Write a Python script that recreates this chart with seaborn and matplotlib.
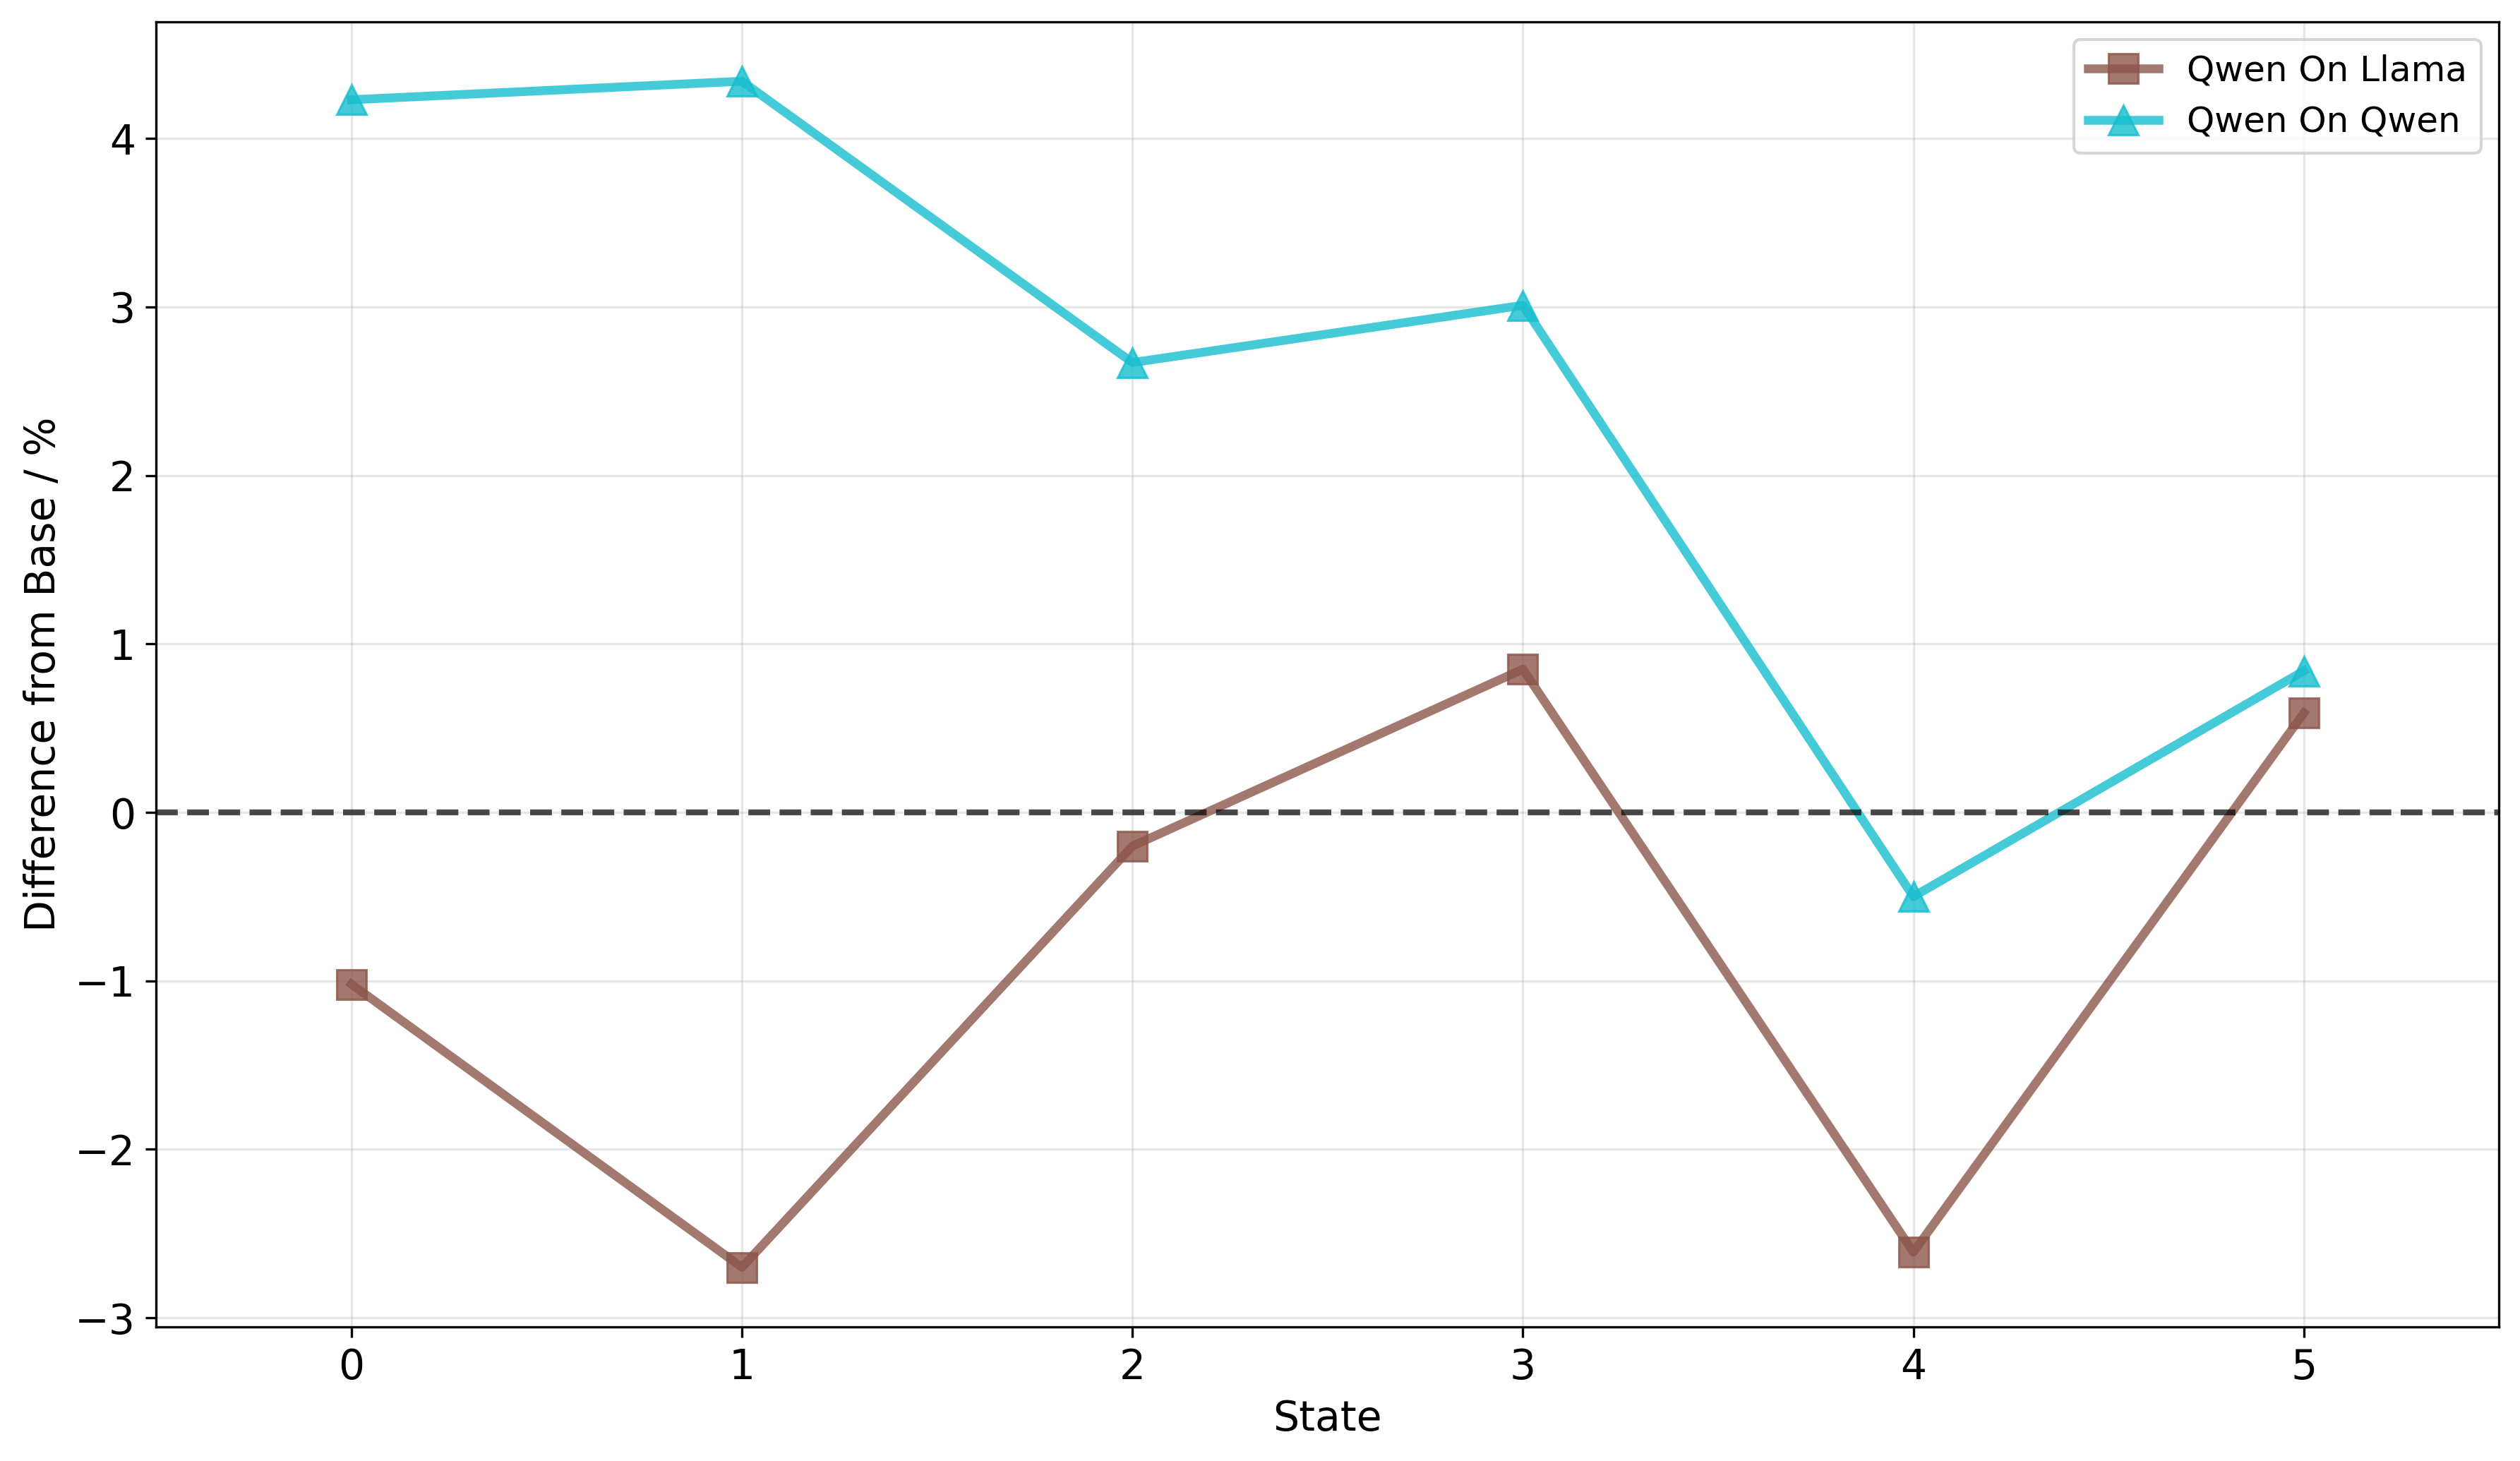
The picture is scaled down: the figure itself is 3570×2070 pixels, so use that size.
import numpy as np
import pandas as pd
import matplotlib
matplotlib.use("Agg")
import matplotlib.pyplot as plt
import seaborn as sns

# --- datos ---
states = [0, 1, 2, 3, 4, 5]
qwen_on_llama = [-1.02, -2.70, -0.20, 0.85, -2.61, 0.59]
qwen_on_qwen = [4.23, 4.34, 2.67, 3.01, -0.50, 0.84]

series_names = ["Qwen On Llama", "Qwen On Qwen"]
series_colors = ["#8c564b", "#17becf"]
series_markers = ["s", "^"]

df = pd.DataFrame({
    "State": states * 2,
    "Diff": qwen_on_llama + qwen_on_qwen,
    "Serie": [series_names[0]] * len(states) + [series_names[1]] * len(states),
})

fig, ax = plt.subplots(figsize=(11.9, 6.9))

for name, color, marker in zip(series_names, series_colors, series_markers):
    sub = df[df["Serie"] == name]
    sns.lineplot(data=sub, x="State", y="Diff", ax=ax, label=name,
                 color=color, marker=marker, markersize=10, linewidth=3,
                 alpha=0.8, markeredgecolor=color)

# linea de referencia en cero
ax.axhline(0, color="black", linestyle="--", linewidth=2, alpha=0.7)

ax.set_xlim(-0.5, 5.5)
ax.set_xticks(states)
ax.set_xlabel("State", fontsize=14)
ax.set_ylabel("Difference from Base / %", fontsize=14)
ax.tick_params(labelsize=14)
ax.grid(True, alpha=0.3)
ax.legend(loc="upper right", fontsize=12)

fig.subplots_adjust(left=0.062, right=0.9917, top=0.985, bottom=0.092)
plt.savefig("out.png", dpi=300)
